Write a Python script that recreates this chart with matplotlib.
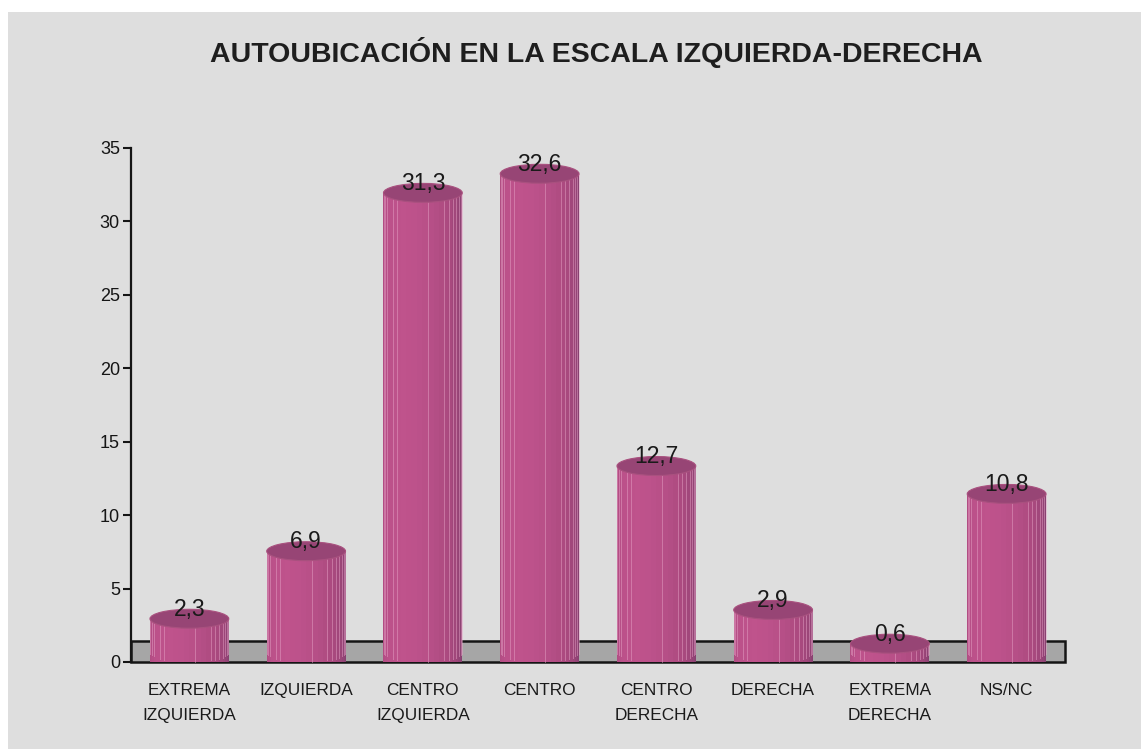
import numpy as np
import matplotlib.pyplot as plt
from matplotlib import font_manager
from matplotlib.patches import Ellipse, Rectangle, PathPatch
from matplotlib.path import Path
from matplotlib.colors import LinearSegmentedColormap

categories = ['EXTREMA\nIZQUIERDA', 'IZQUIERDA', 'CENTRO\nIZQUIERDA', 'CENTRO',
              'CENTRO\nDERECHA', 'DERECHA', 'EXTREMA\nDERECHA', 'NS/NC']
values = [2.3, 6.9, 31.3, 32.6, 12.7, 2.9, 0.6, 10.8]
yticks = [0, 5, 10, 15, 20, 25, 30, 35]
title = 'AUTOUBICACIÓN EN LA ESCALA IZQUIERDA-DERECHA'

# pick a narrow sans if one is installed
names = {f.name for f in font_manager.fontManager.ttflist}
narrow = next((n for n in ['Liberation Sans Narrow', 'Arial Narrow'] if n in names), None)
if narrow:
    plt.rcParams['font.family'] = [narrow, 'DejaVu Sans']
    fs_title, fs_val, fs_cat, fs_tick = 23, 19, 13.4, 15
else:
    plt.rcParams['font.family'] = ['Liberation Sans', 'DejaVu Sans']
    fs_title, fs_val, fs_cat, fs_tick = 20.5, 16.5, 12.4, 13

W, H = 1141, 749
fig = plt.figure(figsize=(W / 100, H / 100), dpi=100)
fig.patch.set_facecolor('white')
fig.add_artist(Rectangle((8 / W, 0), 1 - 8 / W, (H - 12) / H, transform=fig.transFigure,
                         facecolor='#dedede', edgecolor='none', zorder=0))

ax = fig.add_axes([131 / W, 1 - 662 / H, (1065 - 131) / W, (662 - 148) / H])
ax.set_xlim(0, len(values))
ax.set_ylim(0, 35)
ax.patch.set_visible(False)
for s in ['top', 'right', 'bottom']:
    ax.spines[s].set_visible(False)
ax.spines['left'].set_linewidth(1.6)
ax.spines['left'].set_color('#151515')
ax.spines['left'].set_zorder(6)
ax.set_yticks(yticks)
ax.tick_params(axis='y', direction='out', length=6, width=1.5, pad=2,
               labelsize=fs_tick, colors='#151515')
ax.set_xticks([])

# floor
ax.add_patch(Rectangle((0, 0), len(values), 1.4, facecolor='#a6a6a6', edgecolor='#151515',
                       lw=1.8, clip_on=False, zorder=1))

cmap = LinearSegmentedColormap.from_list('cyl', ['#864170', '#a8497e', '#bf538c'])
w = 0.675        # cylinder width (data units)
eh = 1.29        # ellipse height (data units)
n_fac = 22
seams = [1, 2, 3, 5, 6, 12, 15, 16, 17, 18, 19, 20, 21]

for i, v in enumerate(values):
    c = i + 0.5
    x0, x1 = c - w / 2, c + w / 2
    yb = eh / 2
    yt = v + eh / 2

    # side of the cylinder: left edge, lower half of base ellipse, right edge
    t = np.linspace(np.pi, 2 * np.pi, 60)
    verts = [(x0, yt)] + [(c + w / 2 * np.cos(a), yb + eh / 2 * np.sin(a)) for a in t] + [(x1, yt), (x0, yt)]
    codes = [Path.MOVETO] + [Path.LINETO] * (len(verts) - 2) + [Path.CLOSEPOLY]
    body = PathPatch(Path(verts, codes), facecolor='none', edgecolor='none', zorder=2, clip_on=False)
    ax.add_patch(body)

    # faceted shading across the front half
    xs = np.linspace(x0, x1, 400)
    a = np.pi - np.arccos(np.clip((xs - c) / (w / 2), -1, 1))
    a = np.floor(a / np.pi * n_fac) / n_fac * np.pi + np.pi / (2 * n_fac)
    inten = 0.5 * np.cos(a) + 0.86 * np.sin(a)
    inten = (inten + 0.5) / 1.5
    img = cmap(inten)[None, :, :3]
    im = ax.imshow(img, extent=[x0, x1, 0, yt], aspect='auto', interpolation='nearest',
                   zorder=2, clip_on=False)
    im.set_clip_path(body)

    # facet seams (counted from the left edge)
    for k in seams:
        ang = np.pi - np.pi * k / n_fac
        xk = c + w / 2 * np.cos(ang)
        yk = yb - eh / 2 * np.sin(ang)
        ln, = ax.plot([xk, xk], [yk, yt], color='#e6a2c6', lw=0.7,
                      alpha=0.5, zorder=3, clip_on=False)
        ln.set_clip_path(body)

    # top cap
    ax.add_patch(Ellipse((c, yt), w, eh, facecolor='#974575', edgecolor='#a9517f',
                         lw=0.8, zorder=4, clip_on=False))

    ax.text(c, v + 0.85, f'{v:.1f}'.replace('.', ','), ha='center', va='baseline',
            fontsize=fs_val, color='#1a1a1a', zorder=7)

    ax.text(c, -1.45, categories[i], ha='center', va='top', fontsize=fs_cat,
            color='#1a1a1a', linespacing=1.8)

fig.text(596 / W, 1 - 53 / H, title, ha='center', va='center', fontsize=fs_title,
         fontweight='bold', color='#1e1e1e')

fig.savefig('out.png', dpi=100)
